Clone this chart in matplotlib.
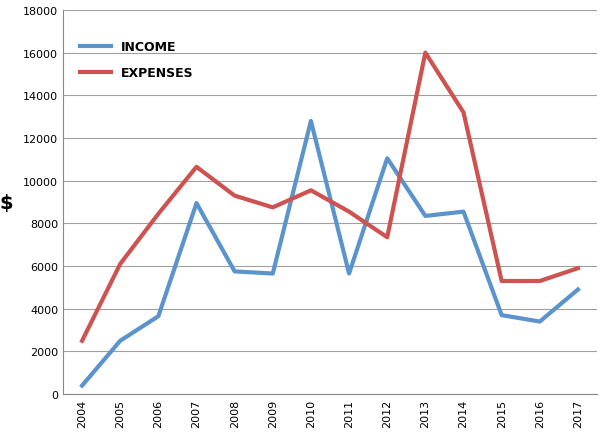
import matplotlib.pyplot as plt

years = [str(y) for y in range(2004, 2018)]
income = [400, 2500, 3650, 8950, 5750, 5650, 12800, 5650, 11050, 8350, 8550, 3700, 3400, 4900]
expenses = [2500, 6100, 8450, 10650, 9300, 8750, 9550, 8550, 7350, 16000, 13200, 5300, 5300, 5900]

fig, ax = plt.subplots(figsize=(6, 4.39), dpi=100)
fig.subplots_adjust(left=0.105, right=0.995, top=0.975, bottom=0.1)

x = range(len(years))
ax.plot(x, income, color='#5b93cd', lw=3, label='INCOME')
ax.plot(x, expenses, color='#cd5250', lw=3, label='EXPENSES')

ax.set_xlim(-0.5, len(years) - 0.5)
ax.set_ylim(0, 18000)
ax.set_yticks(range(0, 18001, 2000))
ax.set_xticks(list(x))
ax.set_xticklabels(years, rotation=90)
ax.tick_params(labelsize=8, length=0)
ax.yaxis.grid(True, color='#a0a0a0', lw=0.8)
ax.set_axisbelow(True)
for s in ['top', 'right']:
    ax.spines[s].set_visible(False)
ax.spines['left'].set_color('#888888')
ax.spines['bottom'].set_color('#888888')
ax.set_ylabel('$', rotation=0, fontsize=14, fontweight='bold', labelpad=12, va='center')

leg = ax.legend(loc='upper left', bbox_to_anchor=(0.01, 0.95), frameon=False,
                prop={'weight': 'bold', 'size': 9}, handlelength=2.5,
                labelspacing=1.0)
fig.savefig('out.png')
